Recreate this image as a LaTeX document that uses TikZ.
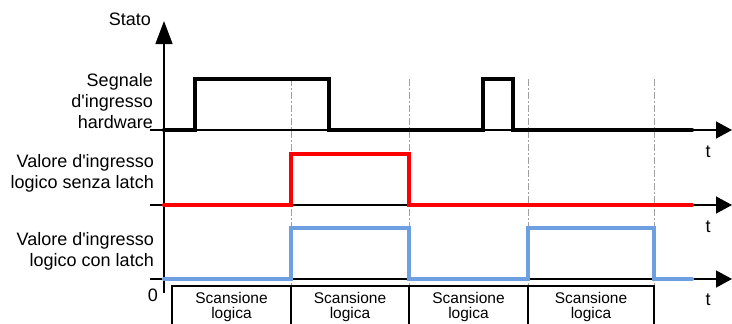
\documentclass[tikz,border=0pt]{standalone}
\usepackage{fontspec}
\setmainfont{Liberation Sans}[Ligatures=TeXOff]
\usetikzlibrary{arrows.meta}
\definecolor{sigred}{RGB}{255,0,0}
\definecolor{sigblue}{RGB}{110,160,225}
\definecolor{guide}{RGB}{160,160,160}
\tikzset{
  axisline/.style={line width=1.3pt, black},
  yarrow/.style={-{Triangle[length=23pt,width=17pt]}},
  tarrow/.style={-{Triangle[length=16pt,width=17pt]}},
  signal/.style={line width=4.3pt, line join=miter, line cap=round},
  guideline/.style={guide, line width=1pt, dash pattern=on 7pt off 2pt on 2pt off 2pt},
  scanframe/.style={line width=2.5pt, black},
  lbl/.style={font=\fontsize{18}{21}\selectfont, inner sep=0pt, align=right, anchor=base east},
  scanlbl/.style={font=\fontsize{15.5}{15}\selectfont, inner sep=0pt, align=center, anchor=base},
  tlbl/.style={font=\fontsize{18}{21}\selectfont, inner sep=0pt}
}
\begin{document}
\begin{tikzpicture}[x=1pt, y=-1pt]
\useasboundingbox (0,0) rectangle (732,324);

% axis end points
\coordinate (ybot) at (164,293);
\coordinate (ytop) at (164,21);
\coordinate (h0) at (150,130);  \coordinate (h1) at (732,130);
\coordinate (r0) at (150,205);  \coordinate (r1) at (732,205);
\coordinate (b0) at (150,279);  \coordinate (b1) at (732,279);

% scan-cycle boundaries
\foreach \x in {291,409,528,654}
  \draw[guideline] (\x,79) -- (\x,286);

% scan-cycle frames
\draw[scanframe] (172,326) -- (172,286) -- (654,286) -- (654,326);
\foreach \x in {291,409,528}
  \draw[scanframe] (\x,286) -- (\x,326);

% axes
\draw[axisline, yarrow] (ybot) -- (ytop);
\draw[axisline, tarrow] (h0) -- (h1);
\draw[axisline, tarrow] (r0) -- (r1);
\draw[axisline, tarrow] (b0) -- (b1);

% signals
\draw[signal, black] (164,130) -- (195,130) -- (195,79) -- (329,79) -- (329,130)
  -- (483,130) -- (483,79) -- (513,79) -- (513,130) -- (692,130);
\draw[signal, sigred] (164,205) -- (291,205) -- (291,154) -- (409,154)
  -- (409,205) -- (692,205);
\draw[signal, sigblue] (164,279) -- (291,279) -- (291,228) -- (409,228)
  -- (409,279) -- (528,279) -- (528,228) -- (654,228) -- (654,279) -- (692,279);

% labels (base anchor sits on the last line)
\node[lbl] (stato) at (151,26) {Stato};
\node[lbl] (hw) at (153,128) {Segnale\\d'ingresso\\hardware};
\node[lbl] (nolatch) at (154,188) {Valore d'ingresso\\logico senza latch};
\node[lbl] (latch) at (154,266) {Valore d'ingresso\\logico con latch};
\node[tlbl] (zero) at (153,295) {0};
\node[tlbl] (t1) at (708,152) {t};
\node[tlbl] (t2) at (708,227) {t};
\node[tlbl] (t3) at (708,300) {t};

\foreach \cx/\nm in {231.5/s1, 350/s2, 468.5/s3, 591/s4}
  \node[scanlbl] (\nm) at (\cx,318) {Scansione\\logica};
\end{tikzpicture}
\end{document}
